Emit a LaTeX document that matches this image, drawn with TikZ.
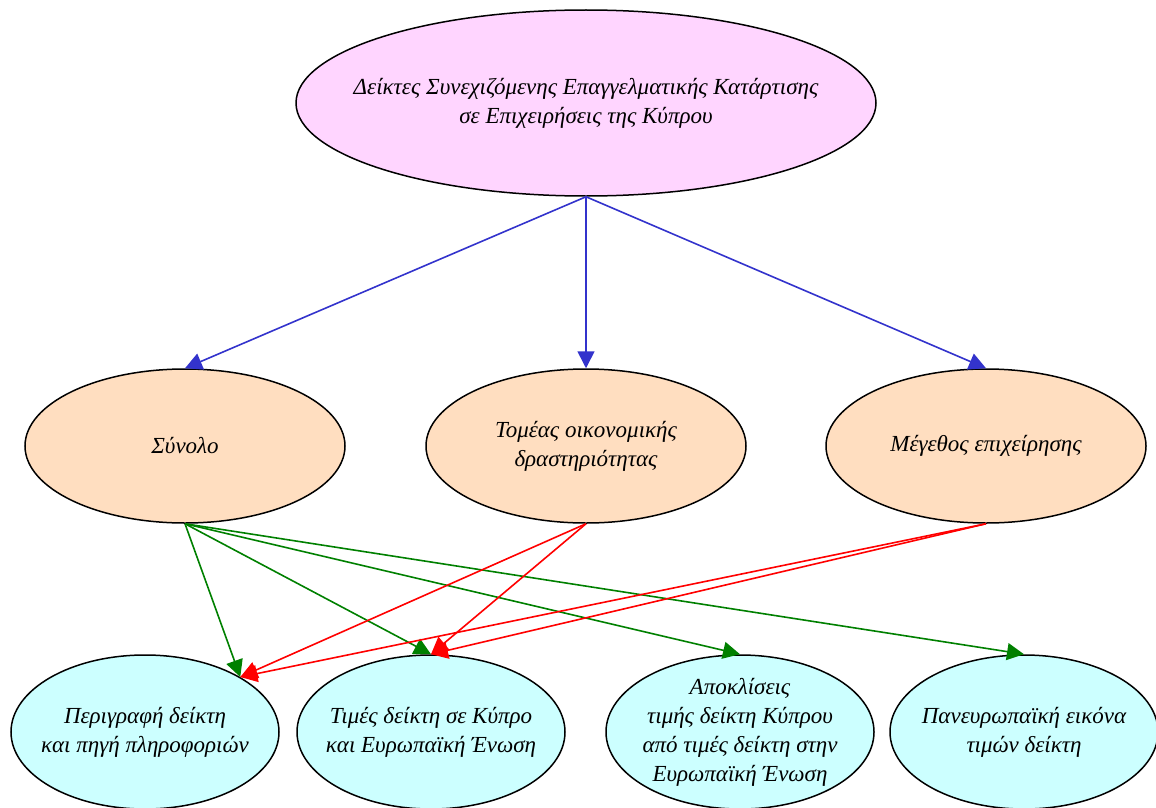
\documentclass[tikz,border=0pt]{standalone}
\usepackage{fontspec}
\setmainfont{Liberation Serif}
\usepackage{tikz}
\usetikzlibrary{positioning,arrows.meta,shapes.geometric}
\definecolor{toppink}{RGB}{255,213,255}
\definecolor{midpeach}{RGB}{255,222,192}
\definecolor{lowcyan}{RGB}{204,255,255}
\definecolor{edgeblue}{RGB}{51,51,204}
\definecolor{edgegreen}{RGB}{0,128,0}
\definecolor{edgered}{RGB}{255,0,0}
\tikzset{
	txt/.style={inner sep=0pt, align=center, font=\fontsize{23}{29}\selectfont\itshape},
	box/.style={ellipse, draw=black, line width=1.5pt, inner sep=0pt},
	topbox/.style={box, fill=toppink, minimum width=580pt, minimum height=186pt},
	midbox/.style={box, fill=midpeach, minimum width=320pt, minimum height=154pt},
	lowbox/.style={box, fill=lowcyan, minimum width=268pt, minimum height=154pt},
	link/.style={line width=1.6pt, -{Triangle[length=17pt,width=17pt]}}
}

\begin{document}
\begin{tikzpicture}[x=1pt, y=-1pt]
	\useasboundingbox (0,0) rectangle (1156,808);
	\node[topbox, label={[txt]center:{Δείκτες Συνεχιζόμενης Επαγγελματικής Κατάρτισης\\σε Επιχειρήσεις της Κύπρου}}](cvts) at (586,103) {};
	\node[midbox, label={[txt]center:{Σύνολο}}](synolo) at (185,446) {};
	\node[midbox, label={[txt]center:{Τομέας οικονομικής\\δραστηριότητας}}](tomeas) at (586,446) {};
	\node[midbox, label={[txt]center:{Μέγεθος επιχείρησης}}](megethos) at (986,446) {};
	\node[lowbox, label={[txt]center:{Περιγραφή δείκτη\\και πηγή πληροφοριών}}](perigrafi) at (145,732) {};
	\node[lowbox, label={[txt]center:{Τιμές δείκτη σε Κύπρο\\και Ευρωπαϊκή Ένωση}}](times) at (431,732) {};
	\node[lowbox, label={[txt]center:{Αποκλίσεις\\τιμής δείκτη Κύπρου\\από τιμές δείκτη στην\\Ευρωπαϊκή Ένωση}}](apokliseis) at (740,732) {};
	\node[lowbox, label={[txt]center:{Πανευρωπαϊκή εικόνα\\τιμών δείκτη}}](paneuro) at (1024,732) {};
	% from the top node
	\draw[link, edgeblue] (cvts.south) -- (synolo.north);
	\draw[link, edgeblue] (cvts.south) -- (tomeas.north);
	\draw[link, edgeblue] (cvts.south) -- (megethos.north);
	% from Synolo
	\draw[link, edgegreen] (synolo.south) -- (perigrafi.north east);
	\draw[link, edgegreen] (synolo.south) -- (times.north);
	\draw[link, edgegreen] (synolo.south) -- (apokliseis.north);
	\draw[link, edgegreen] (synolo.south) -- (paneuro.north);
	% from Tomeas and Megethos
	\draw[link, edgered] (tomeas.south) -- (perigrafi.north east);
	\draw[link, edgered] (tomeas.south) -- (times.north);
	\draw[link, edgered] (megethos.south) -- (perigrafi.north east);
	\draw[link, edgered] (megethos.south) -- (times.north);
\end{tikzpicture}
\end{document}
